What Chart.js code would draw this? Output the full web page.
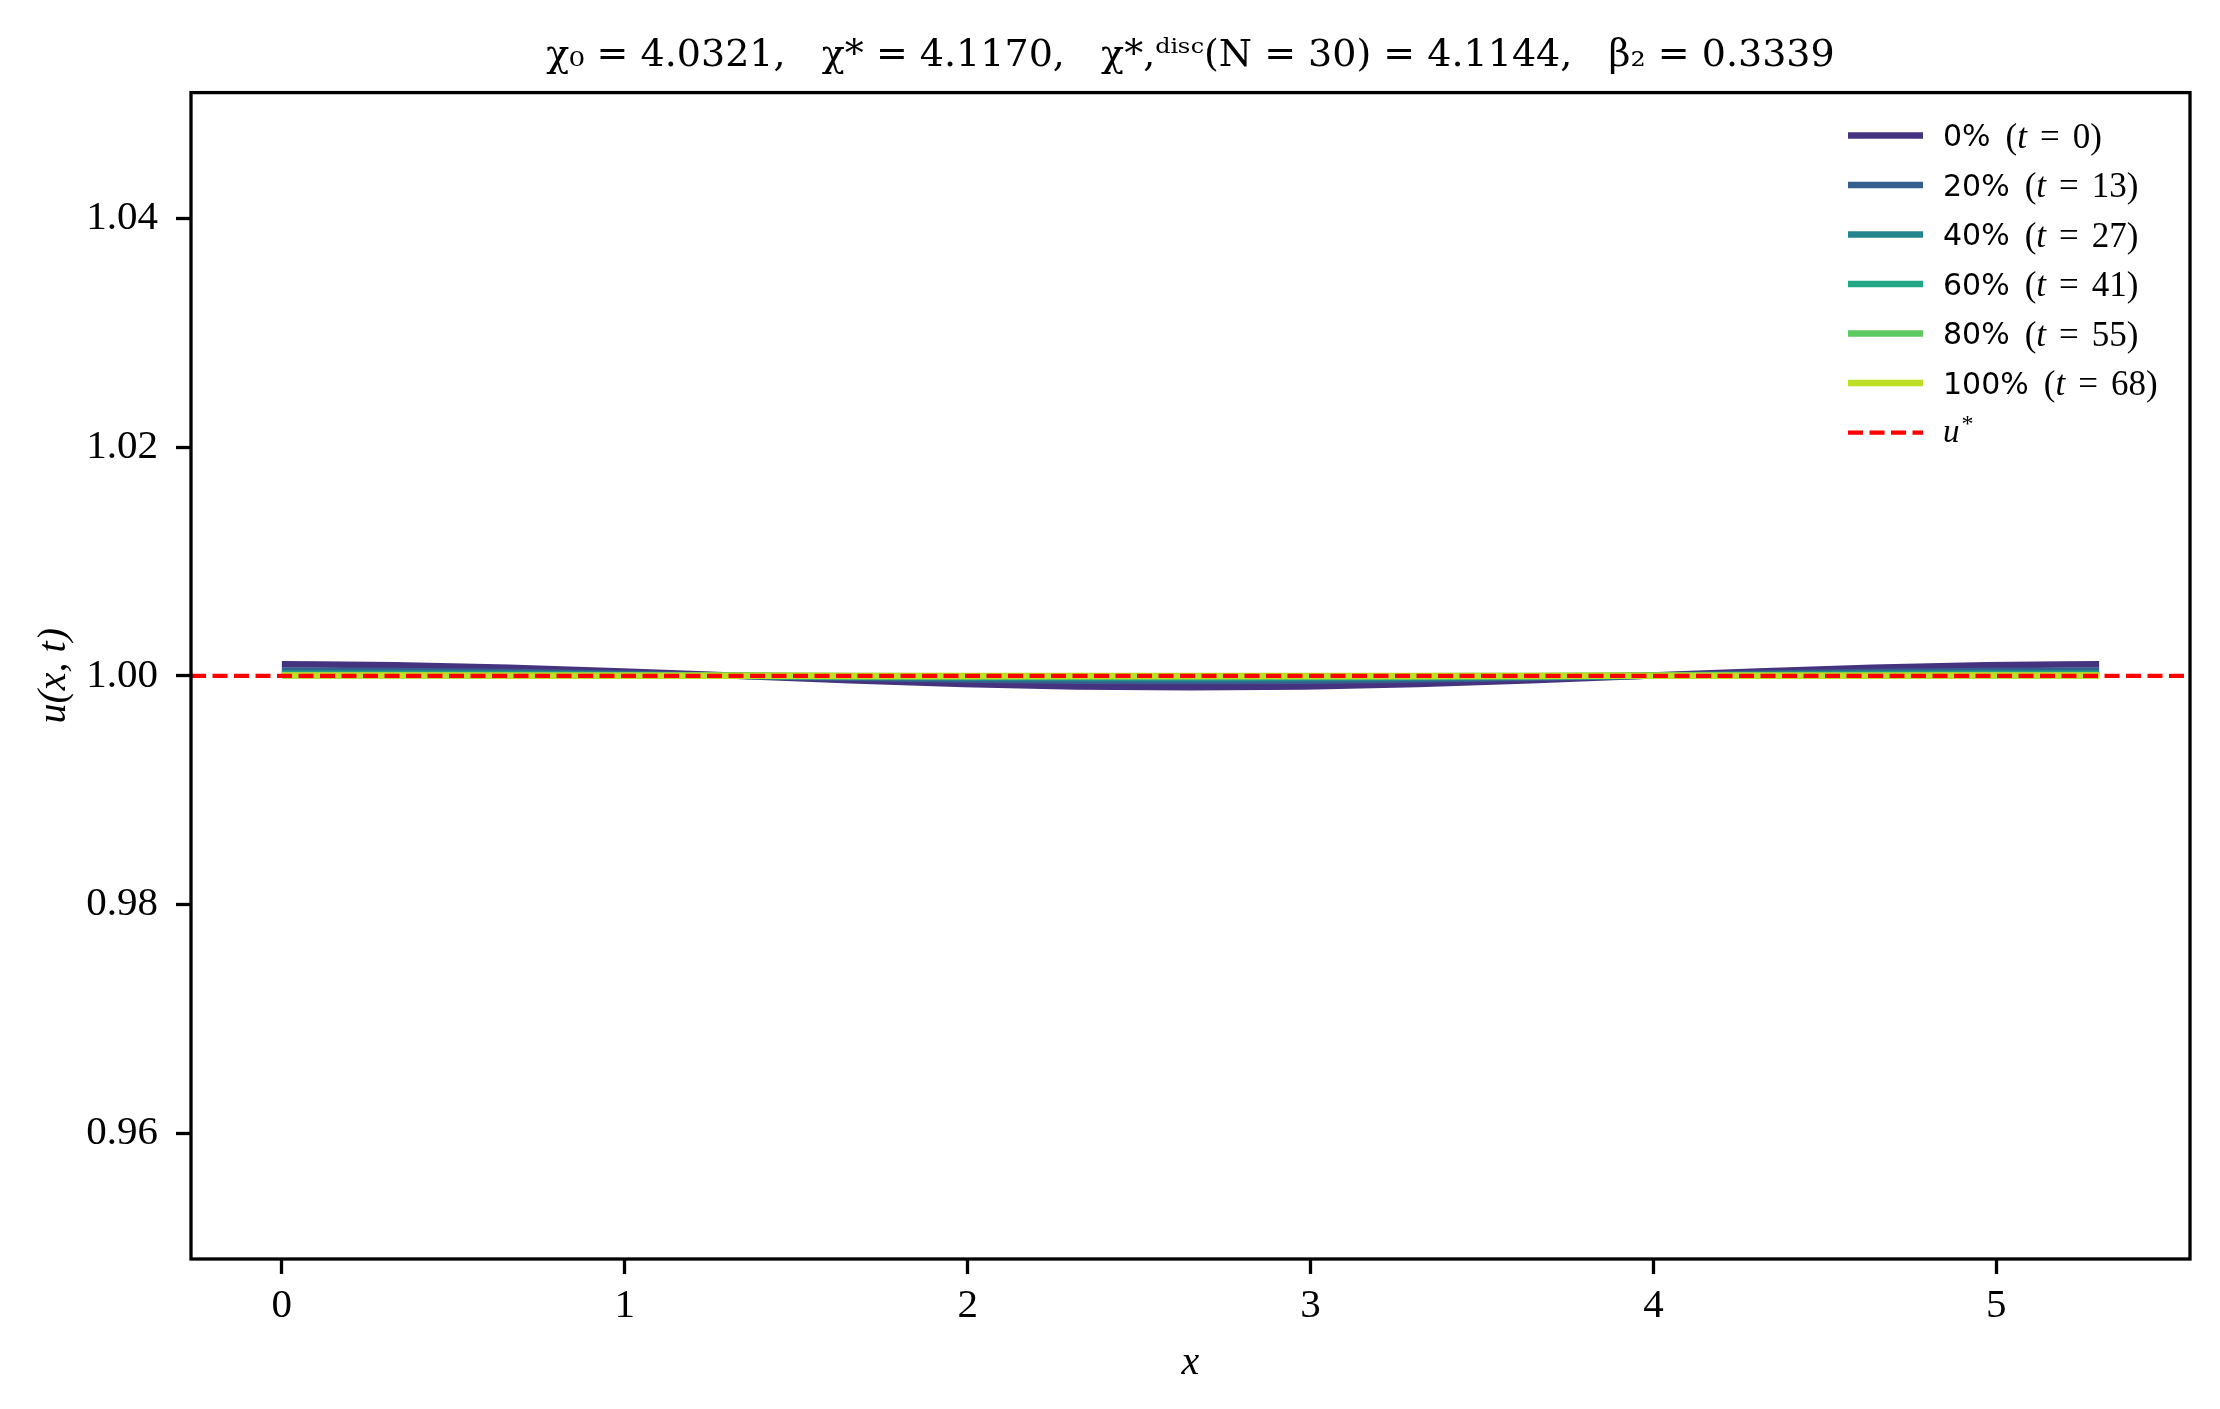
<!DOCTYPE html>
<html>
<head>
<meta charset="utf-8">
<script src="https://cdn.jsdelivr.net/npm/chart.js@4.4.1/dist/chart.umd.min.js"></script>
<style>
    html, body { margin: 0; padding: 0; background: #fff; }
</style>
</head>
<body>
<canvas id="myChart" width="2220" height="1409"></canvas>
<script>
// grid points along x
const xs = [0, 0.331, 0.663, 0.994, 1.325, 1.656, 1.988, 2.319, 2.65, 2.981, 3.313, 3.644, 3.975, 4.306, 4.638, 4.969, 5.3];

// u(x, t) profiles
const u0 = [1.00101, 1.000933, 1.000714, 1.000387, 1.0, 0.999613, 0.999286, 0.999067, 0.99899, 0.999067, 0.999286, 0.999613, 1.0, 1.000387, 1.000714, 1.000933, 1.00101];
const u20 = [1.00046, 1.000425, 1.000325, 1.000176, 1.0, 0.999824, 0.999675, 0.999575, 0.99954, 0.999575, 0.999675, 0.999824, 1.0, 1.000176, 1.000325, 1.000425, 1.00046];
const u40 = [1.00024, 1.000222, 1.00017, 1.000092, 1.0, 0.999908, 0.99983, 0.999778, 0.99976, 0.999778, 0.99983, 0.999908, 1.0, 1.000092, 1.00017, 1.000222, 1.00024];
const u60 = [1.00012, 1.000111, 1.000085, 1.000046, 1.0, 0.999954, 0.999915, 0.999889, 0.99988, 0.999889, 0.999915, 0.999954, 1.0, 1.000046, 1.000085, 1.000111, 1.00012];
const u80 = [1.00005, 1.000046, 1.000035, 1.000019, 1.0, 0.999981, 0.999965, 0.999954, 0.99995, 0.999954, 0.999965, 0.999981, 1.0, 1.000019, 1.000035, 1.000046, 1.00005];
const u100 = [1.00002, 1.000018, 1.000014, 1.000008, 1.0, 0.999992, 0.999986, 0.999982, 0.99998, 0.999982, 0.999986, 0.999992, 1.0, 1.000008, 1.000014, 1.000018, 1.00002];
const uStar = 1.0;

const seriesLabels = ["0% (t = 0)", "20% (t = 13)", "40% (t = 27)", "60% (t = 41)", "80% (t = 55)", "100% (t = 68)"];
const xTicks = [0, 1, 2, 3, 4, 5];
const yTicks = [0.96, 0.98, 1.00, 1.02, 1.04];
const xLimits = [-0.265, 5.565];
const yLimits = [0.949, 1.051];

const viridis = ["#46337f", "#355f8d", "#25858e", "#22a884", "#5ec962", "#bddf26"];
const serif = "'Liberation Serif', 'DejaVu Serif', serif";

function toPoints(ys) {
    return xs.map((x, i) => ({ x: x, y: ys[i] }));
}

const profiles = [u0, u20, u40, u60, u80, u100];
const datasets = profiles.map((ys, i) => ({
    label: seriesLabels[i],
    data: toPoints(ys),
    borderColor: viridis[i],
    borderWidth: 6.5,
    pointRadius: 0,
    cubicInterpolationMode: "monotone",
    order: profiles.length - i
}));
datasets.push({
    label: "u*",
    data: [{ x: xLimits[0], y: uStar }, { x: xLimits[1], y: uStar }],
    borderColor: "#ff0000",
    borderWidth: 4.2,
    borderDash: [15, 6.5],
    pointRadius: 0,
    order: 0
});

// frame around the axes
const framePlugin = {
    id: "frame",
    afterDatasetsDraw(chart) {
        const { ctx, chartArea: a } = chart;
        ctx.save();
        ctx.strokeStyle = "#000";
        ctx.lineWidth = 3.3;
        ctx.strokeRect(a.left, a.top, a.right - a.left, a.bottom - a.top);
        ctx.restore();
    }
};

// matplotlib-like legend in the upper right corner
const legendPlugin = {
    id: "innerLegend",
    afterDraw(chart) {
        const { ctx, chartArea: a } = chart;
        const x0 = a.right - 342, x1 = a.right - 267, tx = a.right - 247;
        let y = a.top + 43;
        const put = (txt, font, x, yy) => {
            ctx.font = font;
            ctx.fillText(txt, x, yy);
            return x + ctx.measureText(txt).width;
        };
        chart.data.datasets.forEach(ds => {
            ctx.save();
            ctx.strokeStyle = ds.borderColor;
            ctx.lineWidth = ds.borderWidth;
            ctx.setLineDash(ds.borderDash || []);
            ctx.beginPath();
            ctx.moveTo(x0, y);
            ctx.lineTo(x1, y);
            ctx.stroke();
            ctx.setLineDash([]);
            ctx.fillStyle = "#000";
            ctx.textBaseline = "middle";
            let cx = tx;
            if (ds.label === "u*") {
                cx = put("u", "italic 33px " + serif, cx, y + 1) + 2;
                put("*", "24px " + serif, cx, y - 8);
            } else {
                // "0% (t = 0)" -> percent, then math part
                const m = ds.label.match(/^(\S+) \(t = (\d+)\)$/);
                cx = put(m[1], "30px 'DejaVu Sans', sans-serif", cx, y + 3) + 15;
                cx = put("(", "35px " + serif, cx, y + 3);
                cx = put("t", "italic 35px " + serif, cx, y + 3) + 13;
                cx = put("=", "35px " + serif, cx, y + 3) + 13;
                put(m[2] + ")", "35px " + serif, cx, y + 3);
            }
            ctx.restore();
            y += 49.5;
        });
    }
};

const ctx = document.getElementById("myChart");
const myChart = new Chart(ctx, {
    type: "line",
    data: { datasets: datasets },
    options: {
        responsive: false,
        animation: false,
        devicePixelRatio: 1,
        layout: { padding: { left: 0, right: 30, top: 0, bottom: 0 } },
        plugins: {
            legend: { display: false },
            tooltip: { enabled: false },
            title: {
                display: true,
                fullSize: false,
                text: "χ₀ = 4.0321,   χ* = 4.1170,   χ*,ᵈⁱˢᶜ(N = 30) = 4.1144,   β₂ = 0.3339",
                color: "#000",
                font: { family: "'DejaVu Serif', serif", size: 38, weight: "normal" },
                padding: { top: 33, bottom: 14 }
            }
        },
        scales: {
            x: {
                type: "linear",
                min: xLimits[0],
                max: xLimits[1],
                afterBuildTicks: (scale) => { scale.ticks = xTicks.map(v => ({ value: v })); },
                afterFit: (scale) => { scale.height = 150; },
                ticks: {
                    color: "#000",
                    font: { family: serif, size: 41 },
                    padding: 8,
                    maxRotation: 0,
                    callback: (v) => String(v)
                },
                grid: {
                    drawOnChartArea: false,
                    drawTicks: true,
                    tickLength: 15,
                    tickWidth: 3.3,
                    tickColor: "#000"
                },
                border: { display: false },
                title: {
                    display: true,
                    text: "x",
                    color: "#000",
                    font: { family: serif, size: 40, style: "italic" },
                    padding: { top: 0, bottom: 22 }
                }
            },
            y: {
                type: "linear",
                min: yLimits[0],
                max: yLimits[1],
                afterBuildTicks: (scale) => { scale.ticks = yTicks.map(v => ({ value: v })); },
                afterFit: (scale) => { scale.width = 191; },
                ticks: {
                    color: "#000",
                    font: { family: serif, size: 41 },
                    padding: 18,
                    callback: (v) => Number(v).toFixed(2)
                },
                grid: {
                    drawOnChartArea: false,
                    drawTicks: true,
                    tickLength: 15,
                    tickWidth: 3.3,
                    tickColor: "#000"
                },
                border: { display: false },
                title: {
                    display: true,
                    text: "u(x, t)",
                    color: "#000",
                    font: { family: serif, size: 40, style: "italic" },
                    padding: { top: 30, bottom: 0 }
                }
            }
        }
    },
    plugins: [framePlugin, legendPlugin]
});
</script>
</body>
</html>
